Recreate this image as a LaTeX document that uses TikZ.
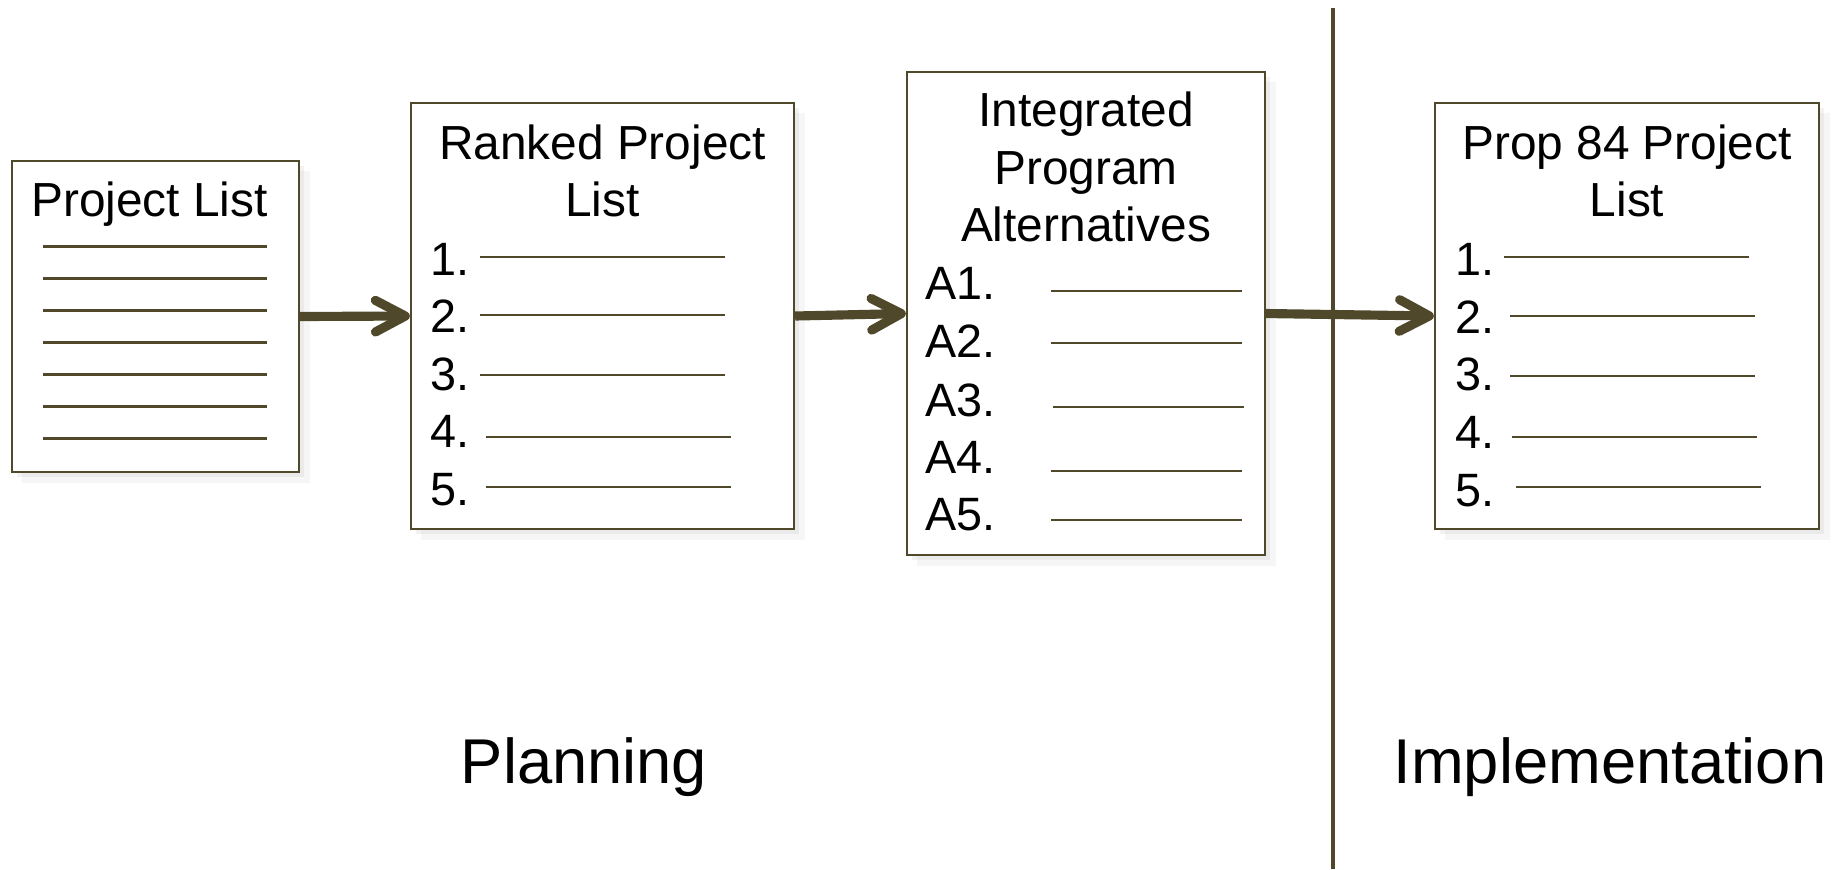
\documentclass[tikz,border=0pt]{standalone}
\usepackage{fontspec}
\setmainfont{Liberation Sans}
\usetikzlibrary{arrows.meta,shadows}
\definecolor{listolive}{HTML}{50482A}
\begin{document}
\begin{tikzpicture}[x=0.01cm,y=-0.01cm,
		listbox/.style={draw=listolive,line width=0.6pt,fill=white,inner sep=0pt,
			drop shadow={shadow xshift=1.5pt,shadow yshift=-1.5pt,opacity=0.10},
			drop shadow={shadow xshift=3pt,shadow yshift=-3pt,opacity=0.07}},
		title/.style={font=\fontsize{13.6}{16.4}\selectfont,align=center,inner sep=0pt,anchor=north},
		item/.style={font=\fontsize{13.3}{15}\selectfont,inner sep=0pt,anchor=west},
		rule/.style={draw=listolive,line width=0.6pt},
		flow/.style={draw=listolive,line width=2.6pt,-{Straight Barb[length=8.5pt,width=9pt,round]}},
		phase/.style={font=\fontsize{18}{21}\selectfont,inner sep=0pt,anchor=base}]
	\useasboundingbox (0,0) rectangle (1840,869);
	% the four lists
	\node[listbox,minimum width=2.87cm,minimum height=3.11cm] (plist) at (155.5,316.5) {};
	\node[listbox,minimum width=3.83cm,minimum height=4.26cm] (ranked) at (602.5,316) {};
	\node[listbox,minimum width=3.58cm,minimum height=4.83cm] (integ) at (1086,313.5) {};
	\node[listbox,minimum width=3.84cm,minimum height=4.26cm] (prop) at (1627,316) {};
	\node[title] (plist-t) at ([xshift=-0.06cm,yshift=-0.21cm]plist.north) {Project List};
	\node[title] (ranked-t) at ([yshift=-0.22cm]ranked.north) {Ranked Project\\List};
	\node[title] (integ-t) at ([yshift=-0.203cm]integ.north) {Integrated\\Program\\Alternatives};
	\node[title] (prop-t) at ([yshift=-0.22cm]prop.north) {Prop 84 Project\\List};
	% blank lines
	\foreach \i in {0,...,6}
		\draw[rule] (43,246.5+32*\i) -- (267,246.5+32*\i);
	\foreach \n/\ny/\lx/\ly in {1/259/480/257,2/316/480/315,3/374.5/480/375,4/431/486/437,5/490/486/487}{
		\node[item] (ranked-\n) at (430,\ny) {\n.};
		\draw[rule] (\lx,\ly) -- (\lx+245,\ly);
	}
	\foreach \n/\ny/\lx/\ly in {1/283.5/1051/291,2/341/1051/343,3/400/1053/407,4/457/1051/471,5/514.5/1051/520}{
		\node[item] (integ-\n) at (925,\ny) {A\n.};
		\draw[rule] (\lx,\ly) -- (\lx+191,\ly);
	}
	\foreach \n/\ny/\lx/\ly in {1/259/1504/257,2/317/1510/316,3/374/1510/376,4/432/1512/437,5/490.5/1516/486.6}{
		\node[item] (prop-\n) at (1455,\ny) {\n.};
		\draw[rule] (\lx,\ly) -- (\lx+245,\ly);
	}
	% planning / implementation
	\coordinate (split-top) at (1333,8);
	\coordinate (split-bot) at (1333,869);
	\draw[draw=listolive,line width=1.15pt] (split-top) -- (split-bot);
	\draw[flow] (plist.east) -- (ranked.west);
	\draw[flow] (ranked.east) -- (integ.west);
	\draw[flow] (integ.east) -- (prop.west);
	\node[phase] (plan) at (584,783) {Planning};
	\node[phase] (impl) at (1610,783) {Implementation};
\end{tikzpicture}
\end{document}
